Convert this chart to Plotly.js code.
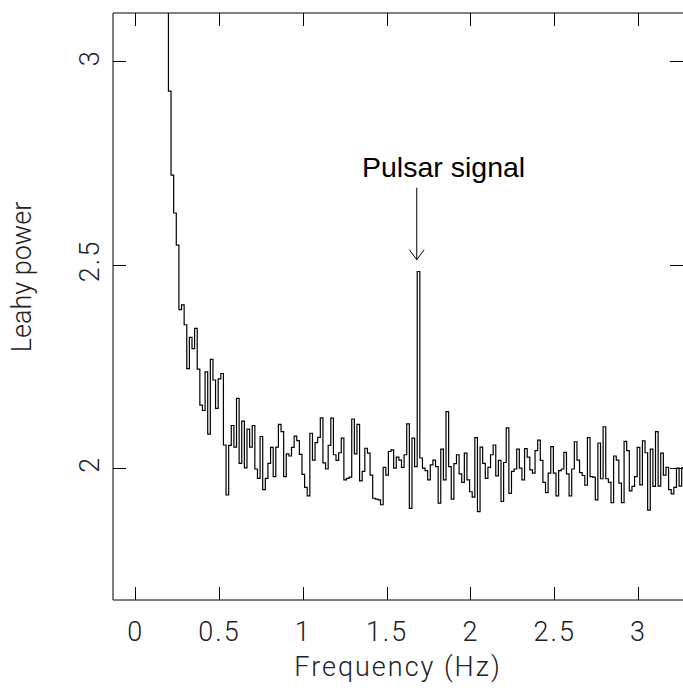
<!DOCTYPE html>
<html>
<head>
<meta charset="utf-8">
<script src="https://cdn.plot.ly/plotly-3.0.1.min.js"></script>
<style>
html,body{margin:0;padding:0;overflow:hidden;background:#fff;}
#chart{width:683px;height:691px;}
.xtitle{letter-spacing:2px;}
.xtick text,.ytick text{letter-spacing:2px;}
</style>
</head>
<body>
<div id="chart"></div>
<script>
// Power spectrum: bins of width 1/64 Hz, first listed bin centred at 12/64 Hz
const binWidth = 1 / 64;          // Hz
const firstBinIndex = 12;         // first bin centre = 12 * binWidth
const leahyPower = [
  3.5, 2.928, 2.721, 2.628, 2.549, 2.390, 2.402, 2.353, 2.245, 2.322,
  2.294, 2.344, 2.244, 2.155, 2.142, 2.237, 2.084, 2.268, 2.217, 2.147,
  2.220, 2.233, 2.057, 1.934, 2.056, 2.105, 2.052, 2.172, 2.012, 2.116,
  2.001, 2.096, 2.052, 2.105, 1.998, 1.975, 2.078, 1.947, 1.975, 2.012,
  2.051, 1.979, 2.052, 2.108, 2.090, 1.979, 2.035, 2.030, 2.051, 2.079,
  2.068, 2.034, 1.985, 1.953, 1.932, 2.086, 2.020, 2.063, 2.076, 2.124,
  2.013, 1.998, 2.056, 2.123, 2.033, 2.019, 2.038, 2.074, 1.971, 1.975,
  1.978, 2.121, 2.035, 2.108, 1.969, 1.992, 2.049, 2.037, 1.983, 1.926,
  1.924, 1.922, 1.910, 2.002, 1.983, 2.041, 2.045, 2.000, 2.027, 2.020,
  2.002, 2.033, 2.109, 1.901, 2.074, 2.004, 2.484, 2.025, 2.000, 1.994,
  1.971, 2.008, 2.020, 2.004, 1.914, 2.047, 1.971, 2.139, 2.004, 1.924,
  2.011, 2.033, 1.986, 1.965, 2.037, 1.971, 1.942, 1.929, 2.075, 1.893,
  2.052, 2.012, 1.975, 2.002, 2.033, 2.057, 1.981, 2.019, 1.918, 2.014,
  2.099, 1.938, 1.992, 1.998, 2.047, 2.000, 1.971, 2.048, 2.027, 1.996,
  1.988, 2.043, 2.069, 2.019, 1.965, 1.940, 1.988, 2.053, 1.988, 1.932,
  1.994, 1.998, 2.039, 1.986, 1.932, 1.998, 2.065, 2.020, 1.989, 1.982,
  1.958, 2.075, 1.979, 1.978, 1.922, 2.062, 1.974, 2.102, 1.974, 1.965,
  1.915, 2.030, 2.020, 1.963, 1.915, 2.066, 2.043, 1.944, 1.955, 1.979,
  2.051, 1.959, 2.067, 2.038, 1.897, 2.047, 1.955, 2.090, 1.956, 2.037,
  1.983, 2.002, 1.947, 1.937, 1.953, 2.000, 1.956, 2.001, 2.003, 1.990
];
const xTickVals = [0, 0.5, 1, 1.5, 2, 2.5, 3];
const xTickText = ['0', '0.5', '1', '1.5', '2', '2.5', '3'];
const yTickVals = [2, 2.5, 3];
const yTickText = ['2', '2.5', '3'];
const annotationText = 'Pulsar signal';
const xTitle = 'Frequency (Hz)';
const yTitle = 'Leahy power';
const pulsarFreq = 1.677;   // where the arrow points (Hz)
const arrowTipPower = 2.513;
const labelFreq = 1.8365;
const labelPower = 2.742;

// Build step-histogram edges from the bins
const edgesX = [];
const stepY = [];
for (let i = 0; i < leahyPower.length; i++) {
  edgesX.push((firstBinIndex + i - 0.5) * binWidth);
  stepY.push(leahyPower[i]);
}
edgesX.push((firstBinIndex + leahyPower.length - 0.5) * binWidth);
stepY.push(leahyPower[leahyPower.length - 1]);

const tickFont = {family: 'Roboto, "DejaVu Sans", sans-serif', size: 27, color: '#222', weight: 300};
const titleFont = {family: 'Roboto, "DejaVu Sans", sans-serif', size: 27, color: '#222', weight: 300};

const trace = {
  x: edgesX, y: stepY, type: 'scatter', mode: 'lines',
  line: {shape: 'hv', color: '#000', width: 1.2},
  hoverinfo: 'skip', showlegend: false
};

const frameLine = {color: '#000', width: 1};

const layout = {
  width: 683, height: 691,
  margin: {l: 113, r: 0, t: 13, b: 91, pad: 0},
  paper_bgcolor: '#fff', plot_bgcolor: '#fff',
  showlegend: false,
  xaxis: {
    range: [-0.1354, 3.2656], autorange: false,
    showgrid: false, zeroline: false,
    showline: false, mirror: 'ticks',
    ticks: 'inside', ticklen: 13, tickwidth: 1, tickcolor: '#000',
    tickvals: xTickVals, ticktext: xTickText,
    tickfont: tickFont, ticklabelstandoff: 13,
    title: {text: xTitle, font: titleFont, standoff: 10}
  },
  yaxis: {
    range: [1.6756, 3.1202], autorange: false,
    showgrid: false, zeroline: false,
    showline: false, mirror: 'ticks',
    ticks: 'inside', ticklen: 13, tickwidth: 1, tickcolor: '#000',
    tickvals: yTickVals, ticktext: yTickText, tickangle: -90,
    tickfont: tickFont, ticklabelstandoff: 8
  },
  annotations: [{
    x: labelFreq, y: labelPower, xref: 'x', yref: 'y',
    text: annotationText, showarrow: false,
    xanchor: 'center', yanchor: 'middle',
    font: {family: 'Liberation Sans, Arial, sans-serif', size: 28.5, color: '#000'}
  }, {
    x: -0.1596, y: 2.47, xref: 'paper', yref: 'y',
    text: yTitle, showarrow: false, textangle: -90,
    xanchor: 'center', yanchor: 'middle',
    font: titleFont
  }],
  shapes: [
    {type: 'line', xref: 'paper', yref: 'paper', x0: 0, x1: 0, y0: 0, y1: 1, line: frameLine},
    {type: 'line', xref: 'paper', yref: 'paper', x0: 0, x1: 1, y0: 1, y1: 1, line: frameLine},
    {type: 'line', xref: 'paper', yref: 'paper', x0: 0, x1: 1, y0: 0, y1: 0, line: frameLine},
    {
      type: 'path', xref: 'x', yref: 'y',
      xsizemode: 'pixel', ysizemode: 'pixel',
      xanchor: pulsarFreq, yanchor: arrowTipPower,
      path: 'M0,72 L0,0 M-7.4,10 L0,0 L7.4,10',
      line: {color: '#000', width: 1}
    }
  ]
};

Plotly.newPlot('chart', [trace], layout, {displayModeBar: false, staticPlot: true});
</script>
</body>
</html>
